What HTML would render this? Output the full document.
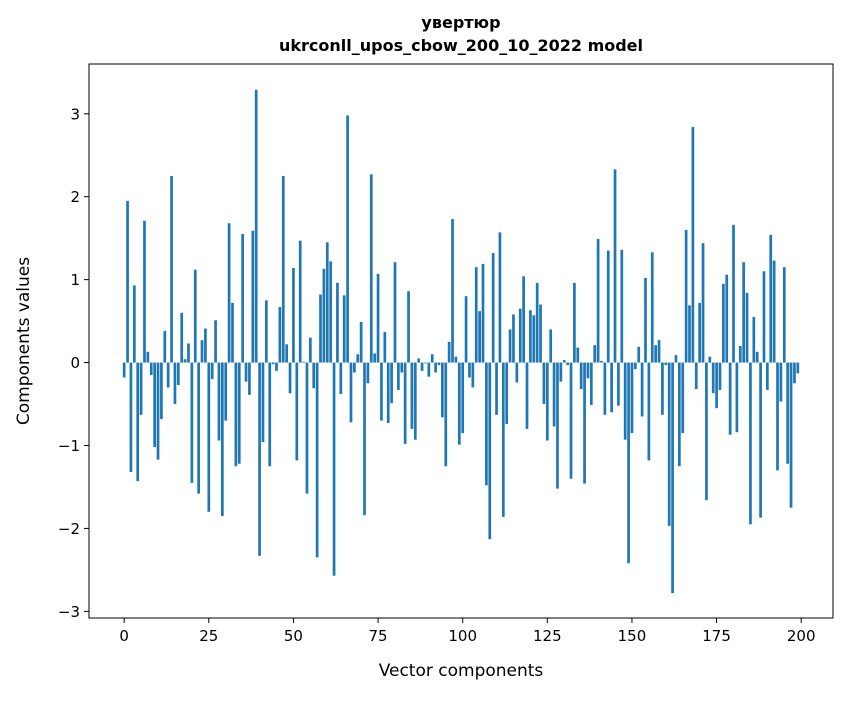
<!DOCTYPE html>
<html><head><meta charset="utf-8"><style>
body{margin:0;background:#fff;}
svg text{font-family:"DejaVu Sans","Liberation Sans",sans-serif;fill:#000;}
</style></head><body>
<svg id="chart" width="847" height="696" xmlns="http://www.w3.org/2000/svg">
<rect width="847" height="696" fill="#fff"/>
<text x="461" y="28" text-anchor="middle" font-size="16" font-weight="bold">увертюр</text>
<text x="461" y="51" text-anchor="middle" font-size="16" font-weight="bold">ukrconll_upos_cbow_200_10_2022 model</text>
<g id="bars"></g>
<rect x="89" y="64" width="744" height="554" fill="none" stroke="#000" stroke-width="1"/>
<g id="xticks"></g>
<g id="yticks"></g>
<text x="461" y="676" text-anchor="middle" font-size="17">Vector components</text>
<text transform="translate(29,341) rotate(-90)" text-anchor="middle" font-size="17">Components values</text>
</svg>
<script>
const values = [-0.18,1.95,-1.32,0.93,-1.43,-0.63,1.71,0.13,-0.15,-1.02,-1.17,-0.68,0.38,-0.30,2.25,-0.50,-0.27,0.60,0.04,0.23,
-1.45,1.12,-1.58,0.27,0.41,-1.80,-0.20,0.51,-0.94,-1.85,-0.70,1.68,0.72,-1.25,-1.22,1.55,-0.23,-0.39,1.59,3.29,
-2.33,-0.96,0.75,-1.25,-0.02,-0.10,0.67,2.25,0.22,-0.37,1.14,-1.18,1.47,0.01,-1.58,0.30,-0.31,-2.35,0.82,1.13,
1.45,1.22,-2.57,0.96,-0.38,0.81,2.98,-0.72,-0.12,0.10,0.49,-1.84,-0.25,2.27,0.11,1.07,-0.70,0.37,-0.73,-0.49,
1.21,-0.33,-0.12,-0.98,0.86,-0.80,-0.93,0.05,-0.10,-0.01,-0.17,0.10,-0.12,-0.03,-0.66,-1.25,0.25,1.73,0.07,-0.99,
-0.85,0.80,-0.18,-0.30,1.15,0.62,1.19,-1.48,-2.13,1.32,-0.63,1.57,-1.86,-0.74,0.40,0.58,-0.24,0.65,1.04,-0.80,
0.63,0.57,0.96,0.70,-0.50,-0.94,0.40,-0.77,-1.52,-0.23,0.03,-0.03,-1.40,0.96,0.18,-0.32,-1.46,-0.19,-0.51,0.21,
1.49,0.02,-0.63,1.35,-0.60,2.33,-0.52,1.36,-0.93,-2.42,-0.85,-0.08,0.19,-0.65,1.02,-1.18,1.33,0.21,0.27,-0.63,
-0.03,-1.97,-2.78,0.09,-1.25,-0.85,1.60,0.69,2.84,-0.32,0.72,1.44,-1.66,0.07,-0.37,-0.55,-0.33,0.95,1.06,-0.87,
1.66,-0.84,0.20,1.21,0.84,-1.95,0.55,0.13,-1.87,1.10,-0.33,1.54,1.23,-1.30,-0.47,1.15,-1.22,-1.75,-0.25,-0.13];
const xTicks = [0,25,50,75,100,125,150,175,200];
const yTicks = [-3,-2,-1,0,1,2,3];
const yTickLabels = ["−3","−2","−1","0","1","2","3"];

const NS="http://www.w3.org/2000/svg";
const L=89,R=833,T=64,B=618;
const xMin=-10.39,xMax=209.39,yMin=-3.08,yMax=3.60;
function xs(v){return L+(v-xMin)/(xMax-xMin)*(R-L);}
function ys(v){return B-(v-yMin)/(yMax-yMin)*(B-T);}
const gb=document.getElementById('bars');
values.forEach((v,i)=>{
  const r=document.createElementNS(NS,'rect');
  const x0=xs(i-0.4),x1=xs(i+0.4);
  const y0=ys(Math.max(v,0)),y1=ys(Math.min(v,0));
  r.setAttribute('x',x0);r.setAttribute('width',x1-x0);
  r.setAttribute('y',y0);r.setAttribute('height',Math.max(y1-y0,0.3));
  r.setAttribute('fill','#1f77b4');
  
  
  gb.appendChild(r);
});
const gx=document.getElementById('xticks');
xTicks.forEach(t=>{
  const l=document.createElementNS(NS,'line');
  l.setAttribute('x1',xs(t));l.setAttribute('x2',xs(t));l.setAttribute('y1',B);l.setAttribute('y2',B+5);
  l.setAttribute('stroke','#000');
  
  
  gx.appendChild(l);
  const tx=document.createElementNS(NS,'text');
  tx.setAttribute('x',xs(t));tx.setAttribute('y',B+23);tx.setAttribute('text-anchor','middle');tx.setAttribute('font-size','15');
  tx.textContent=t;
  
  
  gx.appendChild(tx);
});
const gy=document.getElementById('yticks');
yTicks.forEach((t,i)=>{
  const l=document.createElementNS(NS,'line');
  l.setAttribute('x1',L-5);l.setAttribute('x2',L);l.setAttribute('y1',ys(t));l.setAttribute('y2',ys(t));
  l.setAttribute('stroke','#000');
  
  
  gy.appendChild(l);
  const tx=document.createElementNS(NS,'text');
  tx.setAttribute('x',L-9);tx.setAttribute('y',ys(t)+5.5);tx.setAttribute('text-anchor','end');tx.setAttribute('font-size','15');
  tx.textContent=yTickLabels[i];
  
  
  gy.appendChild(tx);
});
</script>
</body></html>
